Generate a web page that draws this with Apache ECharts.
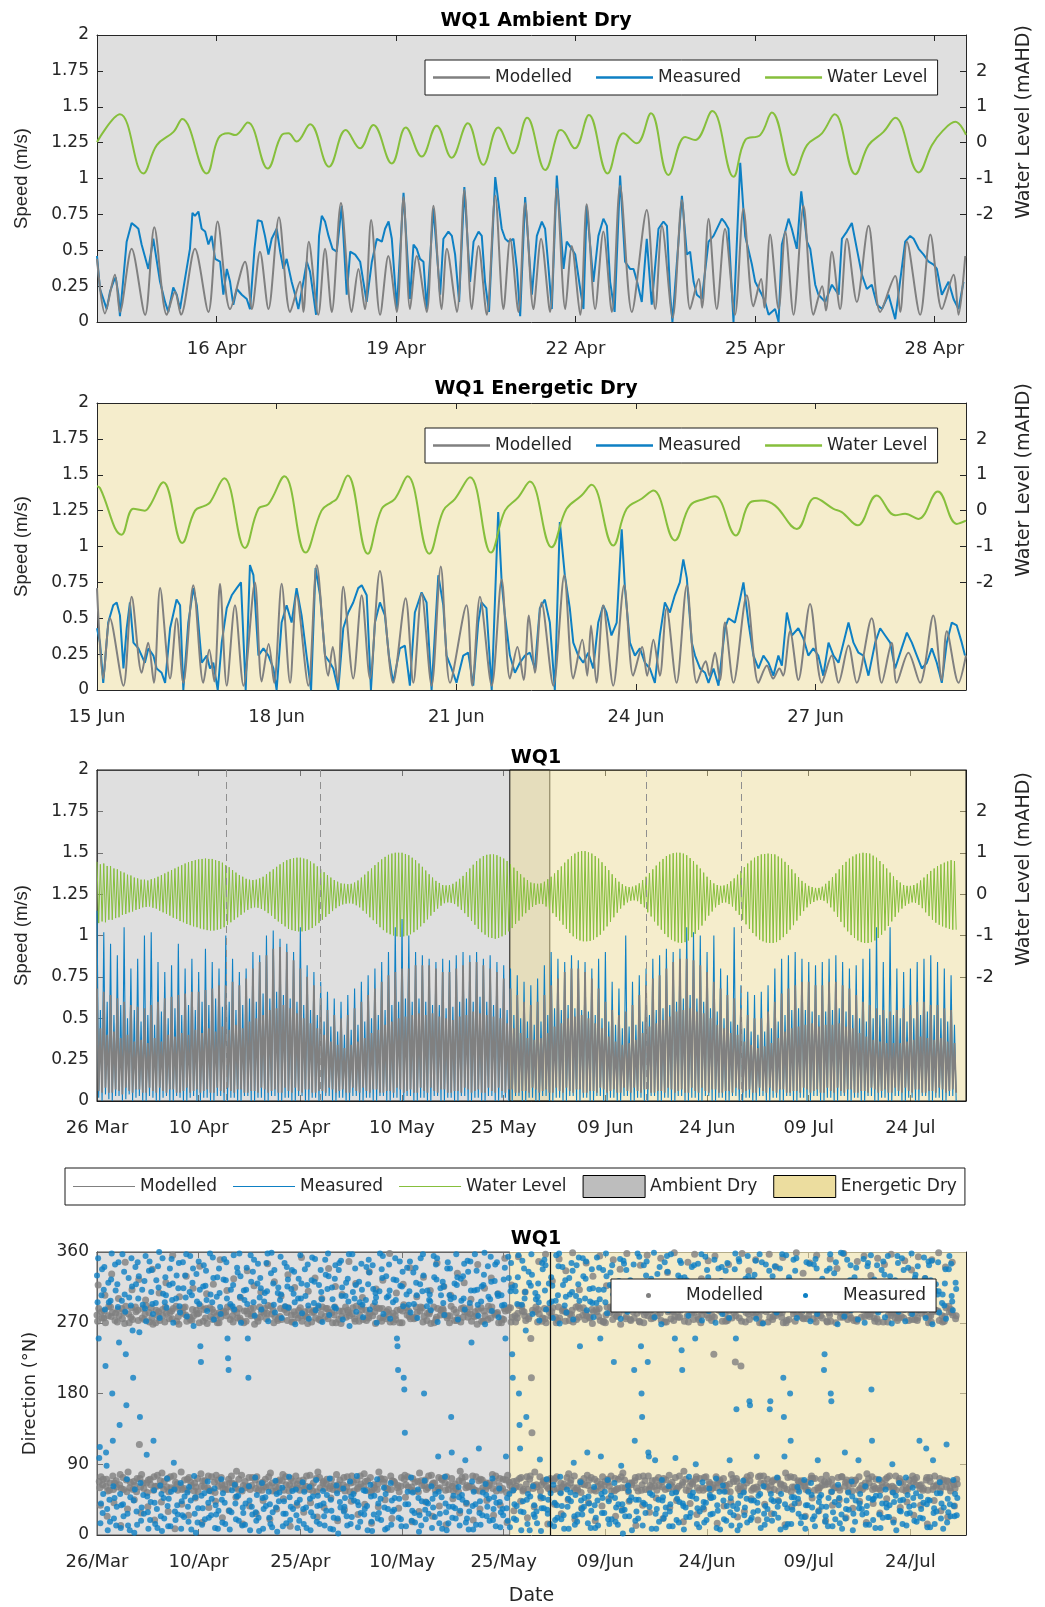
<!DOCTYPE html>
<html>
<head>
<meta charset="utf-8">
<script src="https://cdn.jsdelivr.net/npm/echarts@6/dist/echarts.min.js"></script>
<style>
  html, body { margin: 0; padding: 0; background: #fff; }
  #main { width: 1045px; height: 1607px; }
</style>
</head>
<body>
<div id="main"></div>
<script>
// ---------- panel 1: WQ1 Ambient Dry (hours from 14 Apr 00:00) ----------
const p1Ticks = [48, 120, 192, 264, 336];
const p1Labels = ['16 Apr', '19 Apr', '22 Apr', '25 Apr', '28 Apr'];
const p1Wl = [[0,0.02],[9.2,0.79],[18.6,-0.86],[24,-0.07],[30.7,0.30],[34.2,0.66],[44,-0.86],[48.7,0.12],[52.7,0.26],[55.4,0.21],[60.5,0.56],[68.5,-0.72],[74.1,0.21],[76.8,0.26],[80.1,0.03],[85.5,0.51],[93.1,-0.67],[99.8,0.35],[105.5,-0.16],[110.9,0.49],[118.3,-0.58],[123.9,0.42],[130.3,-0.39],[136.3,0.47],[142.3,-0.42],[148.8,0.54],[155,-0.62],[161,0.42],[167,-0.30],[172.6,0.69],[179.8,-0.76],[185,0.30],[186.2,0.35],[191.7,-0.16],[197.4,0.77],[204.9,-0.86],[211.2,0.26],[216.6,-0.02],[222.3,0.82],[229.3,-0.90],[236,0.16],[240,0.07],[246.9,0.88],[255.4,-0.95],[260.1,0.07],[266.1,0.21],[270.8,0.84],[279.5,-0.90],[284.9,-0.07],[290.9,0.26],[296,0.79],[304.3,-0.88],[309.6,-0.07],[315.6,0.30],[320.3,0.69],[329.7,-0.83],[335,-0.07],[339,0.30],[344.4,0.58],[348.7,0.22]];
const p1Mod = [[0,0.44],[3.2,0.06],[7.2,0.33],[9.2,0.07],[13.9,0.51],[19.3,0.05],[23,0.66],[28,0.05],[31.3,0.21],[33.7,0.05],[39.3,0.51],[44.7,0.07],[48.4,0.70],[53.4,0.09],[59.4,0.42],[62.1,0.09],[65.4,0.49],[68.8,0.09],[73,0.73],[77.5,0.07],[81.5,0.28],[82.8,0.07],[85,0.56],[88.8,0.05],[91.5,0.51],[94.2,0.07],[97.9,0.83],[102.2,0.07],[104.9,0.37],[107.5,0.09],[110,0.71],[113.6,0.05],[116.9,0.46],[120.3,0.07],[123,0.87],[125.6,0.09],[128.3,0.46],[132.3,0.07],[135,0.81],[138.3,0.09],[140.4,0.51],[144.4,0.07],[147.4,0.92],[150.4,0.09],[153.1,0.53],[156.4,0.05],[159.8,0.88],[163.1,0.09],[165.8,0.58],[169.1,0.07],[171.8,0.83],[175.1,0.09],[178.2,0.58],[181.8,0.07],[184.5,0.93],[187.9,0.09],[190.5,0.53],[193.9,0.05],[196.5,0.82],[199.9,0.09],[203.2,0.63],[206.6,0.07],[209.9,0.95],[214.6,0.07],[220.6,0.78],[224,0.09],[226.7,0.67],[231,0.03],[234.7,0.85],[238,0.09],[241.5,0.3],[242.8,0.1],[245.4,0.72],[248.7,0.09],[252,0.65],[256,0.05],[259.4,0.79],[263.4,0.11],[266.5,0.3],[267.8,0.1],[270.1,0.61],[273.5,0.09],[276.2,0.63],[279.5,0.05],[283.5,0.81],[287.5,0.05],[291,0.25],[292.5,0.08],[294.9,0.49],[298.2,0.09],[300.9,0.58],[304.9,0.14],[309.6,0.67],[314.3,0.07],[320.3,0.32],[322.3,0.07],[325,0.56],[330.3,0.05],[334.4,0.61],[339,0.09],[343.7,0.33],[345.7,0.05],[348.4,0.46]];
const p1Meas = [[0,0.46],[1.2,0.23],[3.9,0.09],[5.2,0.21],[6.6,0.28],[7.5,0.31],[8.6,0.19],[9.2,0.04],[11.9,0.56],[13.9,0.69],[15.3,0.67],[16.6,0.65],[17.9,0.54],[20.6,0.37],[22.6,0.58],[25.3,0.28],[27.3,0.14],[28.6,0.07],[30.6,0.24],[32,0.19],[33.3,0.09],[35.3,0.30],[37.3,0.51],[38.3,0.76],[39.3,0.74],[40.7,0.77],[42,0.65],[43.4,0.63],[44.7,0.54],[46,0.60],[47.4,0.44],[49.4,0.42],[50.7,0.19],[52.1,0.37],[53.4,0.28],[54.7,0.12],[56.1,0.23],[58.1,0.19],[60.1,0.16],[61.4,0.09],[63.2,0.51],[64.5,0.71],[66.1,0.70],[67.4,0.60],[68.8,0.47],[70.1,0.58],[72.1,0.65],[73.5,0.49],[74.8,0.37],[76.1,0.44],[78.1,0.28],[79.5,0.19],[80.8,0.09],[82.8,0.28],[84.2,0.42],[85.5,0.35],[86.8,0.19],[87.9,0.05],[89.1,0.60],[90.2,0.74],[91.5,0.70],[92.9,0.60],[94.5,0.51],[96.2,0.49],[98.2,0.81],[100.2,0.19],[101.6,0.49],[103.6,0.47],[105.6,0.42],[106.9,0.28],[108.2,0.14],[110.3,0.42],[112.3,0.58],[114.3,0.56],[115.6,0.65],[117,0.70],[118.3,0.58],[120.3,0.09],[123,0.90],[125.6,0.16],[127,0.54],[128.3,0.51],[129.6,0.44],[131,0.42],[132.3,0.09],[135,0.79],[137.7,0.19],[139,0.58],[141,0.63],[142.4,0.60],[143.7,0.47],[145.3,0.14],[147.4,0.94],[149.7,0.28],[151.1,0.56],[153.1,0.63],[154.4,0.60],[155.7,0.28],[157.3,0.07],[159.8,1.01],[162.4,0.65],[163.8,0.58],[165.1,0.56],[167.1,0.58],[168.5,0.37],[169.8,0.04],[171.8,0.87],[174.5,0.19],[176.5,0.60],[178.5,0.70],[179.8,0.65],[181.2,0.37],[182.5,0.09],[184.5,1.02],[187.2,0.37],[188.5,0.56],[190.5,0.51],[191.9,0.47],[193.9,0.23],[195.2,0.09],[196.5,0.81],[199.2,0.28],[201.2,0.60],[203.2,0.72],[204.6,0.67],[205.9,0.28],[207.7,0.07],[209.9,1.02],[211.9,0.42],[213.9,0.37],[215.3,0.37],[216.6,0.29],[218.6,0.14],[220.6,0.58],[222.6,0.12],[225.3,0.65],[227.3,0.70],[228.7,0.67],[230,0.19],[230.9,0],[234.7,0.88],[236.7,0.47],[238,0.49],[239.4,0.28],[240.7,0.19],[242.7,0.16],[245.4,0.56],[247.4,0.60],[250.7,0.72],[252.1,0.69],[253.4,0.65],[255.4,0],[258.1,1.11],[260.1,0.60],[262.8,0.40],[264.1,0.28],[266.8,0.19],[268.1,0.14],[269.5,0.05],[272.1,0.09],[273.5,0],[274.8,0.54],[277.5,0.72],[278.8,0.65],[280.8,0.51],[282.6,0.91],[284.9,0.56],[286.2,0.51],[288.2,0.26],[289.5,0.19],[292.2,0.14],[294.9,0.26],[297.6,0.19],[298.9,0.58],[300.9,0.63],[302.9,0.69],[304.9,0.51],[306.9,0.33],[308.9,0.23],[310.9,0.26],[313,0.12],[315,0.09],[317.6,0.19],[320.3,0.02],[324.3,0.56],[326.3,0.60],[327.7,0.58],[329.7,0.51],[331.7,0.47],[333.7,0.42],[335.7,0.40],[337,0.37],[339,0.19],[341.7,0.28],[343.7,0.16],[345.7,0.09],[347.7,0.28]];

// ---------- panel 2: WQ1 Energetic Dry (hours from 15 Jun 00:00) ----------
const p2Ticks = [0, 72, 144, 216, 288];
const p2Labels = ['15 Jun', '18 Jun', '21 Jun', '24 Jun', '27 Jun'];
const p2Wl = [[0,0.68],[1.2,0.63],[9.9,-0.67],[14.6,0.05],[19.2,0],[21.2,0.14],[26.6,0.79],[34.2,-0.9],[39.3,0],[43.3,0.14],[45.3,0.23],[51,0.9],[59.3,-1.04],[64.7,0.05],[68.7,0.18],[75.1,0.96],[83.6,-1.17],[90,0],[94.1,0.23],[96.1,0.33],[100.5,0.98],[108.5,-1.2],[114.1,0.05],[119.4,0.33],[124.5,0.96],[133.2,-1.2],[138.8,0],[143.5,0.33],[149.5,0.93],[157.9,-1.17],[163.5,0],[168.8,0.37],[173.5,0.81],[182.2,-1.02],[188.2,0.05],[194.2,0.42],[198.2,0.72],[206.9,-0.97],[212.3,0.05],[218.3,0.33],[223,0.56],[231.6,-0.83],[237.7,0.14],[243.7,0.33],[247.7,0.40],[256,-0.69],[261.8,0.23],[266.4,0.28],[271.8,0.14],[280.5,-0.51],[287.8,0.35],[295.2,0.05],[298.5,-0.04],[304.9,-0.41],[312.5,0.42],[319.9,-0.13],[323.9,-0.09],[329.2,-0.23],[337,0.53],[344.6,-0.37],[348.3,-0.28]];
const p2Mod = [[0,0.71],[2.5,0.08],[5.2,0.50],[10.6,0.03],[13.9,0.65],[17.9,0.12],[20.5,0.33],[22.8,0.05],[25.3,0.71],[29.3,0.08],[31.9,0.50],[34.6,0.05],[38.6,0.73],[42.6,0.05],[45,0.28],[47,0.06],[49.3,0.74],[52,0.03],[55.3,0.59],[58.7,0.03],[63.3,0.75],[66,0.06],[68.8,0.32],[71,0.05],[74,0.74],[77.4,0.05],[80,0.66],[84.7,0.03],[88.1,0.87],[92.7,0.10],[94.5,0.30],[96.5,0.05],[98.7,0.72],[102.7,0.08],[106.1,0.66],[109.4,0.08],[113.4,0.83],[118.7,0.05],[123.7,0.64],[126.8,0.05],[130.1,0.67],[134.1,0.03],[137.8,0.86],[141.5,0.05],[148.1,0.59],[150.4,0.03],[153.5,0.65],[158.2,0.03],[162.2,0.77],[165.5,0.08],[168.5,0.30],[171,0.07],[173.1,0.52],[175.5,0.12],[178.2,0.61],[182.9,0.03],[187.3,0.80],[190.9,0.08],[194.5,0.35],[196.5,0.10],[198,0.45],[200.2,0.05],[202.9,0.59],[206.9,0.03],[211.3,0.73],[214.9,0.10],[218.5,0.30],[220.5,0.10],[223,0.35],[225.6,0.10],[228.3,0.57],[232.3,0.05],[236.4,0.73],[240.4,0.05],[244,0.20],[245.5,0.10],[247.7,0.26],[249.7,0.07],[251.7,0.47],[255.1,0.05],[260.4,0.66],[265.1,0.05],[268.5,0.17],[271,0.08],[273.5,0.15],[275,0.10],[277.8,0.41],[281.1,0.07],[285.8,0.60],[290.5,0.05],[294.5,0.24],[297.2,0.05],[301.2,0.31],[304.5,0.05],[310.5,0.50],[314.5,0.05],[318.5,0.33],[320.5,0.05],[325.2,0.26],[329.9,0.05],[335.2,0.52],[338.6,0.07],[340.6,0.41],[345.3,0.05],[348.3,0.24]];
const p2Meas = [[0,0.43],[1.2,0.33],[2.5,0.05],[4.5,0.47],[6.5,0.59],[7.9,0.61],[9.2,0.52],[10.6,0.15],[11.9,0.43],[13.2,0.61],[14.6,0.33],[16.6,0.29],[17.9,0.24],[19.2,0.19],[20.6,0.29],[22.6,0.24],[23.9,0.15],[25.9,0.12],[27.3,0.05],[29.3,0.43],[31.9,0.63],[33.3,0.59],[34.6,0],[36.6,0.47],[38.6,0.71],[40,0.59],[42,0.19],[44,0.24],[45.3,0.15],[46.6,0.19],[48.4,0],[50,0.33],[52,0.57],[54,0.66],[56,0.71],[57.7,0.75],[59.6,0],[61.3,0.87],[62.7,0.80],[64.7,0.24],[66.7,0.29],[68.7,0.24],[70.7,0.15],[72,0],[74,0.47],[76,0.59],[78,0.47],[80,0.71],[82,0.52],[84,0.24],[85.8,0],[87.6,0.85],[89.4,0.66],[91.4,0.24],[93.4,0.19],[94.7,0.15],[96.7,0],[98.7,0.43],[100.7,0.54],[102.7,0.61],[104.7,0.71],[106.1,0.73],[108.1,0.66],[109.8,0],[111.4,0.47],[113.4,0.61],[115.4,0.52],[117,0.24],[118.7,0.05],[121.4,0.29],[123.4,0.31],[125.4,0.03],[127.4,0.54],[130.1,0.68],[132.1,0.61],[134.1,0],[136.8,0.80],[138.8,0.59],[140.1,0.24],[142.1,0.15],[144.1,0.05],[146.8,0.24],[148.8,0.26],[150.8,0.03],[152.8,0.47],[154.1,0.61],[156.1,0.57],[158.2,0],[160.8,1.24],[162.2,0.75],[163.5,0.52],[165.5,0.24],[167.5,0.12],[169.5,0.19],[171.5,0.24],[173.5,0.26],[175.5,0.15],[177.5,0.57],[179.5,0.63],[181.5,0.47],[183.5,0],[185.5,1.17],[187.5,0.80],[189.5,0.57],[190.9,0.33],[192.9,0.24],[194.9,0.19],[196.9,0.26],[198.9,0.15],[200.9,0.47],[202.9,0.59],[204.2,0.54],[206.2,0.38],[208.3,0.47],[210.3,1.12],[211.6,0.71],[213.6,0.33],[215.6,0.24],[217.6,0.29],[219.6,0.19],[221.6,0.15],[223.6,0.05],[225.6,0.38],[227.6,0.61],[229.6,0.54],[231.6,0.66],[233.6,0.75],[235,0.91],[236.4,0.78],[238.4,0.33],[239.7,0.24],[241.7,0.15],[243.7,0.12],[245.1,0.05],[247.1,0.15],[249.1,0.03],[251.7,0.43],[253.1,0.50],[255.7,0.47],[257.7,0.63],[259.1,0.75],[261.1,0.47],[263.1,0.24],[265.1,0.15],[267.1,0.24],[269.1,0.19],[271.1,0.10],[273.1,0.24],[274.5,0.17],[276.5,0.54],[278.5,0.38],[281.1,0.43],[283.1,0.36],[285.1,0.24],[287.1,0.29],[289.1,0.24],[291.1,0.10],[293.2,0.33],[295.2,0.24],[297.2,0.19],[299.2,0.33],[301.2,0.47],[303.2,0.33],[305.2,0.26],[307.2,0.24],[309.2,0.10],[311.9,0.33],[313.9,0.43],[315.9,0.38],[317.9,0.33],[319.9,0.15],[322.5,0.29],[324.6,0.40],[326.6,0.33],[328.6,0.24],[330.6,0.15],[332.6,0.19],[334.6,0.29],[336.6,0.19],[338.6,0.05],[340.6,0.33],[342.6,0.47],[344.6,0.45],[346.6,0.33],[347.9,0.24]];

// ---------- panels 3 & 4: whole record (days from 26 Mar) ----------
const p3Ticks = [0, 15, 30, 45, 60, 75, 90, 105, 120];
const p3Labels = ['26 Mar', '10 Apr', '25 Apr', '10 May', '25 May', '09 Jun', '24 Jun', '09 Jul', '24 Jul'];
const p4Labels = ['26/Mar', '10/Apr', '25/Apr', '10/May', '25/May', '09/Jun', '24/Jun', '09/Jul', '24/Jul'];
const ambientSpan = [0, 66.8];      // ambient dry patch (panel 3)
const energeticSpan = [60.9, 128.2]; // energetic dry patch
const windowMarks = [19, 33, 81, 95]; // dashed: windows of the two upper panels

// water level, sampled every 6 h (high, low, high, low per day)
const p3Wl = [
.78,-.70,.72,-.66, .74,-.68,.68,-.62, .68,-.62,.62,-.58, .60,-.56,.55,-.50, .52,-.48,.47,-.44,
.45,-.42,.40,-.38, .38,-.36,.35,-.32, .35,-.31,.33,-.30, .36,-.33,.38,-.35, .42,-.40,.46,-.44,
.50,-.48,.54,-.52, .58,-.57,.62,-.60, .66,-.65,.70,-.68, .74,-.72,.77,-.75, .80,-.78,.82,-.80,
.84,-.83,.85,-.85, .86,-.87,.85,-.88, .85,-.88,.82,-.86, .80,-.84,.76,-.80, .70,-.74,.65,-.68,
.58,-.62,.52,-.56, .46,-.50,.42,-.44, .37,-.38,.35,-.34, .34,-.32,.35,-.33, .38,-.36,.42,-.40,
.48,-.46,.54,-.52, .60,-.60,.66,-.66, .72,-.72,.77,-.78, .82,-.84,.85,-.87, .87,-.89,.88,-.90,
.88,-.90,.86,-.89, .84,-.86,.79,-.82, .74,-.76,.67,-.70, .60,-.62,.53,-.55, .46,-.48,.40,-.41,
.34,-.34,.30,-.29, .26,-.25,.25,-.23, .24,-.22,.25,-.23, .28,-.27,.33,-.32, .40,-.40,.47,-.47,
.55,-.56,.62,-.63, .70,-.72,.77,-.80, .84,-.87,.90,-.93, .95,-.97,.98,-1.0, 1.0,-1.02,1.0,-1.03,
1.0,-1.02,.97,-1.0, .94,-.97,.88,-.92, .82,-.86,.74,-.78, .66,-.70,.57,-.61, .48,-.52,.40,-.43,
.32,-.35,.27,-.28, .22,-.22,.21,-.20, .22,-.21,.25,-.24, .30,-.30,.37,-.38, .44,-.46,.53,-.55,
.62,-.65,.71,-.74, .80,-.84,.86,-.92, .92,-.98,.95,-1.04, .96,-1.06,.96,-1.08, .94,-1.06,.90,-1.02,
.86,-.98,.80,-.90, .72,-.82,.64,-.72, .56,-.64,.48,-.54, .40,-.46,.34,-.38, .28,-.31,.26,-.26,
.25,-.23,.26,-.24, .30,-.30,.36,-.37, .42,-.46,.50,-.55, .58,-.64,.67,-.74, .76,-.84,.84,-.94,
.92,-1.02,.98,-1.08, 1.02,-1.12,1.04,-1.14, 1.04,-1.14,1.01,-1.13, .98,-1.10,.92,-1.04, .86,-.98,.77,-.88,
.68,-.78,.58,-.67, .48,-.56,.39,-.45, .30,-.35,.24,-.27, .19,-.20,.17,-.16, .18,-.15,.21,-.17,
.26,-.24,.34,-.32, .42,-.44,.51,-.54, .60,-.66,.69,-.76, .78,-.86,.85,-.96, .92,-1.04,.96,-1.10,
.99,-1.14,1.0,-1.17, 1.0,-1.18,.98,-1.16, .94,-1.12,.87,-1.04, .80,-.96,.71,-.86, .62,-.76,.52,-.64,
.42,-.52,.34,-.42, .26,-.32,.22,-.26, .20,-.21,.21,-.20, .24,-.24,.31,-.30, .38,-.40,.47,-.50,
.56,-.62,.65,-.73, .74,-.84,.81,-.94, .88,-1.02,.92,-1.10, .96,-1.14,.97,-1.17, .98,-1.18,.97,-1.18,
.96,-1.16,.91,-1.11, .86,-1.04,.78,-.96, .70,-.86,.60,-.75, .50,-.64,.41,-.52, .32,-.41,.26,-.32,
.20,-.24,.17,-.19, .15,-.15,.15,-.14, .18,-.16,.25,-.22, .32,-.32,.41,-.42, .50,-.55,.60,-.67,
.70,-.80,.78,-.90, .86,-.99,.91,-1.06, .96,-1.12,.98,-1.16, 1.0,-1.18,.99,-1.18, .98,-1.16,.93,-1.12,
.88,-1.06,.80,-.98, .72,-.88,.62,-.77, .52,-.66,.43,-.55, .34,-.44,.28,-.35, .22,-.28,.20,-.23,
.20,-.20,.22,-.21, .26,-.26,.33,-.34, .40,-.44,.48,-.53, .56,-.62,.62,-.69, .68,-.74,.72,-.78,
.76,-.81,.79,-.84, .82,-.86,.80,-.86
];

// modelled speed, sampled every 6 h (peak, slack, peak, slack per day)
const p3Mod = [
.68,.06,.44,.05, .66,.08,.40,.05, .64,.05,.42,.07, .62,.06,.38,.04, .60,.08,.40,.06,
.58,.05,.36,.07, .57,.07,.37,.05, .56,.05,.35,.08, .58,.06,.38,.05, .60,.08,.36,.06,
.62,.05,.40,.07, .63,.07,.39,.05, .64,.05,.41,.06, .65,.08,.40,.05, .66,.06,.43,.07,
.66,.05,.41,.06, .67,.07,.44,.05, .68,.05,.42,.08, .70,.06,.45,.05, .70,.08,.43,.06,
.72,.05,.46,.07, .70,.07,.44,.05, .74,.05,.48,.06, .80,.06,.50,.05, .84,.08,.52,.07,
.88,.05,.55,.06, .92,.07,.56,.05, .93,.05,.58,.08, .90,.06,.56,.05, .85,.08,.53,.06,
.80,.05,.50,.07, .75,.07,.47,.05, .70,.05,.44,.06, .62,.06,.40,.05, .55,.08,.36,.07,
.52,.05,.34,.06, .50,.07,.32,.05, .52,.05,.34,.08, .56,.06,.36,.05, .60,.08,.38,.06,
.64,.05,.41,.07, .68,.07,.43,.05, .72,.05,.46,.06, .76,.06,.48,.05, .78,.08,.50,.07,
.80,.05,.51,.06, .80,.07,.52,.05, .82,.05,.53,.08, .82,.06,.52,.05, .82,.08,.53,.06,
.80,.05,.51,.07, .78,.07,.50,.05, .78,.05,.49,.06, .80,.06,.51,.05, .82,.08,.52,.07,
.84,.05,.54,.06, .84,.07,.53,.05, .82,.05,.52,.08, .80,.06,.51,.05, .78,.08,.50,.06,
.74,.05,.47,.07, .68,.07,.44,.05, .64,.05,.41,.06, .60,.06,.38,.05, .58,.08,.37,.07,
.60,.05,.38,.06, .64,.07,.41,.05, .70,.05,.45,.08, .74,.06,.47,.05, .78,.08,.50,.06,
.80,.05,.51,.07, .80,.07,.52,.05, .78,.05,.50,.06, .74,.06,.47,.05, .68,.08,.44,.07,
.60,.05,.39,.06, .55,.07,.36,.05, .52,.05,.34,.08, .54,.06,.35,.05, .58,.08,.37,.06,
.64,.05,.41,.07, .70,.07,.45,.05, .74,.05,.47,.06, .76,.06,.49,.05, .80,.08,.51,.07,
.84,.05,.54,.06, .86,.07,.55,.05, .86,.05,.56,.08, .85,.06,.54,.05, .82,.08,.53,.06,
.78,.05,.50,.07, .72,.07,.46,.05, .68,.05,.44,.06, .64,.06,.41,.05, .62,.08,.40,.07,
.56,.05,.36,.06, .52,.07,.34,.05, .50,.05,.32,.08, .50,.06,.33,.05, .54,.08,.35,.06,
.60,.05,.38,.07, .65,.07,.42,.05, .68,.05,.44,.06, .70,.06,.45,.05, .72,.08,.46,.07,
.72,.05,.47,.06, .70,.07,.45,.05, .70,.05,.46,.08, .72,.06,.46,.05, .72,.08,.47,.06,
.70,.05,.45,.07, .68,.07,.44,.05, .64,.05,.41,.06, .60,.06,.39,.05, .58,.08,.37,.07,
.56,.05,.36,.06, .55,.07,.35,.05, .54,.05,.35,.08, .55,.06,.35,.05, .56,.08,.36,.06,
.58,.05,.37,.07, .60,.07,.39,.05, .60,.05,.38,.06, .58,.06,.37,.05, .58,.08,.38,.07,
.56,.05,.36,.06, .55,.07,.35,.05
];

// measured speed, sampled every 6 h
const p3Meas = [
1.15,.02,.55,0, 1.02,.04,.60,.01, .95,0,.52,.03, .88,.03,.58,0, 1.05,.01,.50,.04,
.80,0,.55,.02, .86,.03,.48,0, 1.0,0,.52,.03, 1.02,.02,.46,0, .84,0,.54,.02,
.78,.03,.50,0, .82,0,.56,.03, .95,.02,.52,0, .80,0,.58,.02, .86,.03,.55,0,
.78,0,.60,.02, .92,.02,.58,0, .84,0,.62,.03, .80,.03,.57,0, 1.0,0,.60,.02,
.86,.02,.55,0, .78,0,.58,.03, .80,.03,.62,0, .90,0,.60,.02, .88,.02,.65,0,
1.0,0,.62,.03, 1.03,.03,.66,0, .98,0,.64,.02, .95,.02,.62,0, .90,0,.60,.03,
1.05,.03,.58,0, .82,0,.55,.02, .78,.02,.52,0, .72,0,.48,.03, .66,.03,.45,0,
.62,0,.42,.02, .60,.02,.40,0, .64,0,.43,.03, .68,.03,.46,0, .72,0,.48,.02,
.76,.02,.50,0, .80,0,.52,.03, .84,.03,.55,0, .90,0,.58,.02, 1.05,.02,.60,0,
1.10,0,.62,.03, 1.0,.03,.60,0, .90,0,.62,.02, .88,.02,.60,0, .86,0,.58,.03,
.84,.03,.58,0, .86,0,.56,.02, .85,.02,.57,0, .88,0,.60,.03, .90,.03,.62,0,
.88,0,.60,.02, .90,.02,.63,0, .86,0,.60,.03, .88,.03,.58,0, .84,0,.56,.02,
.82,.02,.55,0, .80,0,.52,.03, .76,.03,.50,0, .72,0,.48,.02, .70,.02,.46,0,
.74,0,.48,.03, .82,.03,.52,0, .90,0,.56,.02, .86,.02,.55,0, .84,0,.58,.03,
.88,.03,.56,0, .85,0,.55,.02, .84,.02,.54,0, .80,0,.52,.03, .86,.03,.50,0,
.90,0,.48,.02, .72,.02,.46,0, .68,0,.44,.03, 1.0,.03,.45,0, .72,0,.46,.02,
.76,.02,.48,0, .80,0,.52,.03, .86,.03,.55,0, .88,0,.56,.02, .92,.02,.58,0,
.90,0,.60,.03, .92,.03,.62,0, 1.05,0,.64,.02, 1.02,.02,.62,0, 1.0,0,.60,.03,
.90,.03,.56,0, 1.0,0,.54,.02, .80,.02,.50,0, .76,0,.48,.03, 1.05,.03,.46,0,
.70,0,.44,.02, .66,.02,.42,0, .64,0,.40,.03, .66,.03,.42,0, .70,0,.44,.02,
.80,.02,.48,0, .86,0,.52,.03, .88,.03,.55,0, .90,0,.56,.02, .86,.02,.55,0,
.84,0,.54,.03, .82,.03,.52,0, .84,0,.54,.02, .86,.02,.55,0, .88,0,.56,.03,
.84,.03,.54,0, .80,0,.52,.02, .82,.02,.50,0, .86,0,.48,.03, .92,.03,.50,0,
1.05,0,.52,.02, .84,.02,.50,0, 1.05,0,.52,.03, .80,.03,.50,0, .78,0,.48,.02,
.80,.02,.50,0, .84,0,.52,.03, .86,.03,.54,0, .88,0,.52,.02, .84,.02,.50,0,
.80,0,.48,.03, .76,.03,.46,0
];

// modelled direction (deg N), sampled every 2 h (one row per day)
const p4Mod = [
280,272,318,288,68,60,38,74,284,276,64,71, 276,285,305,270,62,71,24,56,279,291,57,66,
290,278,332,283,75,58,41,66,273,282,69,61, 271,287,301,279,64,77,12,59,288,275,73,58,
283,269,347,291,70,55,33,80,281,270,60,67, 277,289,312,274,58,68,45,63,290,284,55,72,
286,273,325,115,72,61,28,77,276,288,66,59, 274,281,299,292,66,54,36,70,283,271,71,64,
289,276,338,268,57,74,19,62,270,286,62,76, 279,284,308,273,69,63,42,79,287,279,58,68,
271,290,321,282,61,72,30,55,275,283,74,60, 285,275,356,288,75,59,8,67,291,272,65,57,
278,268,303,286,63,80,39,58,282,289,59,70, 290,280,329,272,71,57,25,73,277,274,67,63,
273,287,314,279,56,66,47,61,286,281,72,55, 282,270,342,291,78,62,16,69,272,287,61,69,
276,288,307,269,60,75,35,57,289,278,56,74, 287,274,319,283,67,54,43,76,279,270,70,62,
270,283,350,277,73,64,22,59,285,283,64,58, 284,279,311,290,58,71,31,66,274,290,75,66,
279,271,326,286,65,60,48,81,283,276,58,71, 288,276,302,273,76,56,14,63,270,285,68,60,
272,285,336,281,62,73,37,58,288,279,63,73, 281,289,317,268,70,59,27,74,276,272,57,65,
290,277,309,284,57,67,44,61,282,288,71,61, 275,282,345,292,74,63,20,79,291,281,66,56,
286,270,322,278,61,56,33,68,273,275,60,70, 278,288,304,274,69,77,46,57,287,290,74,64,
283,273,331,289,56,64,11,72,280,271,59,68, 271,284,315,280,75,60,38,65,276,286,69,57,
289,279,353,272,63,70,29,58,284,279,62,75, 277,269,310,287,58,76,41,62,271,283,56,66,
284,286,327,276,72,55,23,80,289,274,73,60, 273,281,301,290,66,68,35,59,278,288,65,71,
288,275,339,283,59,62,47,71,283,270,58,63, 280,290,316,270,77,57,18,64,274,285,70,59,
269,278,306,285,64,73,32,56,290,277,61,74, 286,283,348,279,55,66,43,75,281,289,67,56,
275,272,320,291,70,59,26,61,272,280,75,65, 291,287,302,274,62,78,39,68,286,273,57,69,
278,276,335,282,73,54,15,57,279,291,64,60, 284,269,313,289,58,65,36,80,288,276,71,72,
272,288,324,277,67,71,45,60,275,284,59,58, 287,280,358,271,75,58,21,69,282,271,68,66,
279,274,308,286,60,63,34,55,270,287,62,73, 270,285,319,293,71,76,48,64,289,280,74,61,
285,278,340,275,57,61,17,72,277,275,56,67, 276,290,303,283,68,55,30,79,285,290,69,63,
289,271,328,278,63,70,42,58,273,282,60,75, 281,284,311,269,76,64,24,66,290,270,66,57,
274,277,346,288,59,73,37,60,280,286,72,70, 288,286,316,280,66,57,13,74,276,279,58,64,
270,279,305,291,72,62,46,56,287,273,65,59, 283,273,333,276,55,69,28,81,271,288,73,68,
277,289,321,284,74,60,40,63,283,277,61,62, 290,281,300,272,61,75,19,58,278,284,57,74,
279,268,344,287,69,56,33,71,289,272,70,60, 272,285,314,279,58,66,44,62,274,291,63,66,
286,276,327,290,77,59,25,68,282,280,75,56, 281,283,307,270,63,72,38,57,270,275,59,71,
274,288,352,285,70,54,16,76,286,289,67,63, 289,271,318,277,57,68,31,60,279,271,62,69,
276,282,354,292,72,61,43,73,291,285,56,58, 284,279,309,273,65,74,22,58,275,278,71,75,
250,200,130,286,59,63,36,80,284,290,64,61, 271,287,348,281,74,56,47,64,272,276,69,67,
288,275,357,270,62,70,14,59,288,283,58,72, 278,284,323,289,69,58,39,72,277,270,74,59,
273,290,351,276,55,66,27,61,285,287,61,65, 285,272,336,283,73,62,45,78,273,281,66,70,
280,286,359,271,60,75,20,57,290,274,60,57, 291,277,312,288,68,54,34,65,280,289,72,64,
274,283,346,279,76,63,41,70,276,277,57,73, 287,269,329,284,58,71,18,56,287,284,68,62,
278,288,355,273,65,59,37,74,271,272,63,68, 270,280,317,290,71,67,46,62,283,290,75,56,
286,274,350,282,56,72,24,58,278,279,59,71, 281,289,338,268,74,60,32,79,289,286,70,60,
275,278,358,287,61,55,43,66,274,273,64,66, 290,284,306,276,69,73,12,60,282,288,56,74,
272,271,343,285,57,64,38,75,270,280,69,58, 283,287,356,279,75,58,29,63,286,275,61,69,
279,276,321,291,62,70,47,57,279,291,73,63, 288,282,352,273,68,61,21,72,291,271,58,70,
271,290,334,284,59,76,35,64,275,285,67,61, 284,273,359,278,73,56,44,59,284,277,62,75,
277,286,314,289,64,67,17,81,272,289,71,57, 291,279,347,271,56,62,40,68,288,282,65,67,
274,283,357,287,71,74,26,60,277,274,57,72, 285,270,326,280,60,57,33,73,285,290,74,59,
280,288,349,276,67,65,48,58,273,279,60,64, 230,277,355,290,74,60,15,66,290,286,68,70,
288,284,311,272,58,72,37,63,281,272,63,56, 273,275,344,285,65,55,42,77,276,288,72,68,
283,289,220,279,72,68,23,59,287,276,56,62, 215,272,358,287,56,61,30,70,271,283,66,74,
290,281,336,274,69,76,46,57,283,291,59,60, 278,286,350,283,61,58,19,74,278,270,75,66,
285,270,318,291,75,66,39,62,289,284,61,71, 271,287,357,277,57,63,27,68,274,278,70,58,
286,279,341,284,70,72,44,56,282,287,64,65, 277,283,353,270,63,59,13,79,270,273,58,73,
289,274,324,288,74,55,36,61,286,281,73,61, 272,288,359,281,58,69,41,67,279,290,62,69,
284,276,333,275,66,62,24,58,291,275,67,57, 279,285,346,290,72,75,47,72,275,286,57,72,
291,271,356,279,60,57,31,60,284,279,71,63, 276,289,315,286,68,64,18,76,272,271,65,68,
283,280,351,272,55,71,38,63,288,288,60,60, 270,284,339,287,73,60,45,57,277,282,74,74,
287,277,358,280,62,67,22,70,285,274,56,64, 280,290,322,276,70,56,34,65,273,289,69,70,
274,272,348,289,57,74,43,59,290,277,63,58, 289,286,355,278,66,61,16,78,280,285,72,66,
278,281,330,285,74,58,40,62,276,272,59,71, 285,275,352,271,59,70,28,57,287,290,66,61,
271,288,344,290,71,63,46,73,271,280,61,75, 288,279,357,283,62,55,19,60,283,276,75,57,
280,273,319,276,69,72,35,66,278,288,58,67, 276,287,349,288,56,60,42,58,289,273,70,62,
290,282,337,274,75,67,25,71,274,283,64,73, 273,276,354,286,63,59,38,64,282,291,57,59,
286,289,326,279,70,73,14,57,270,278,73,68, 279,271,350,284,58,62,44,75,286,286,62,64,
284,285,359,273,72,56,31,61,279,271,68,70, 272,278,341,289,61,69,23,68,291,284,60,56,
287,283,347,280,67,64,37,59,275,279,71,65
];

// measured direction (deg N), sampled every 2 h (one row per day)
const p4Meas = [
330,296,352,250,98,112,15,40,305,338,28,52, 312,341,287,215,105,88,33,6,321,296,45,17,
298,325,358,180,120,62,21,47,344,311,12,36, 319,290,347,245,140,52,9,38,298,357,39,24,
335,306,284,230,165,71,27,12,327,302,6,48, 292,352,316,260,200,44,3,58,341,319,30,13,
347,301,329,258,150,66,18,35,312,293,51,27, 323,288,355,272,102,49,29,8,336,348,19,42,
309,337,294,281,120,57,41,14,295,324,33,9, 342,315,360,276,63,24,52,5,352,307,47,21,
296,328,305,289,72,37,11,46,318,339,11,55, 351,299,320,270,92,58,30,19,301,330,38,26,
314,346,291,283,66,8,43,25,347,314,23,49, 330,302,357,278,54,36,17,61,309,355,44,7,
305,321,339,266,75,27,48,3,332,297,16,34, 348,294,312,240,220,50,13,34,316,343,53,20,
317,336,299,285,68,41,22,56,358,306,25,46, 296,353,327,274,59,9,38,26,303,328,8,31,
339,308,290,281,71,45,16,53,325,351,41,14, 324,347,301,250,225,210,31,7,294,312,29,57,
291,318,356,287,64,40,20,49,340,334,50,18, 358,303,329,270,57,12,35,28,311,299,13,40,
312,340,294,250,200,62,44,6,356,322,36,26, 335,296,350,279,73,29,18,51,320,345,22,5,
302,327,314,287,66,47,8,33,297,308,48,37, 346,310,358,272,55,22,39,14,333,359,10,29,
320,293,337,283,69,35,52,4,308,315,43,54, 299,354,306,276,60,11,27,43,346,291,27,15,
341,316,325,289,74,48,19,36,313,337,56,33, 307,335,296,268,58,25,41,9,301,326,18,45,
356,301,320,282,67,33,14,55,338,304,35,9, 318,344,292,275,61,46,6,29,324,353,49,24,
295,322,351,286,70,17,37,50,292,318,14,38, 337,309,300,271,56,40,24,12,350,331,31,51,
313,358,329,280,72,8,45,31,315,300,7,22, 290,326,343,288,63,53,21,2,337,346,42,35,
349,304,315,274,59,30,36,47,304,321,24,12, 326,297,357,266,68,14,49,23,357,309,52,44,
301,339,318,284,75,42,10,38,322,296,17,28, 345,312,293,277,57,26,33,56,299,341,37,6,
319,350,334,287,64,49,17,5,343,313,26,50, 296,308,302,270,71,21,40,28,310,358,46,19,
338,327,355,281,60,35,7,52,329,302,9,33, 304,344,311,275,66,13,44,30,296,325,32,47,
352,299,324,250,240,210,22,46,348,317,20,11, 316,335,291,200,185,130,39,11,306,340,55,39,
293,310,348,283,73,18,31,54,334,294,28,16, 340,321,305,276,58,47,4,25,319,352,12,43,
310,357,330,180,69,32,20,42,291,311,40,27, 299,306,297,286,62,9,46,35,355,328,23,52,
344,325,352,271,100,55,15,27,314,305,48,8, 322,295,316,280,74,40,29,6,339,347,15,36,
305,339,300,150,105,22,36,50,302,320,34,21, 357,318,328,274,61,48,12,31,326,298,51,45,
329,301,345,287,95,16,41,21,349,335,7,30, 295,348,311,245,68,37,7,55,311,357,39,13,
336,312,293,279,110,28,43,13,297,316,25,54, 318,331,359,268,65,51,24,36,342,303,46,18,
300,354,322,285,72,19,33,48,323,344,11,41, 347,307,304,277,59,42,10,29,305,292,33,25,
325,293,340,250,100,34,47,18,354,327,52,10, 310,346,315,230,200,57,21,39,317,310,19,37,
294,328,356,180,140,110,30,6,293,349,43,29, 339,301,309,260,150,45,14,52,335,321,6,49,
317,357,331,281,62,26,38,23,308,300,30,15, 303,320,296,273,96,49,5,34,346,338,47,34,
350,311,343,287,71,32,27,45,320,295,14,53, 328,297,317,276,64,11,41,19,298,356,38,22,
305,342,358,269,74,53,20,37,341,318,25,8, 292,324,303,283,58,36,46,8,327,306,54,43,
346,309,336,274,92,24,13,51,304,343,17,26, 319,353,298,240,67,44,33,26,352,329,36,47,
301,326,348,286,105,15,49,40,313,297,9,31, 338,295,314,277,61,38,9,22,295,353,44,12,
312,340,300,250,100,52,28,47,337,312,28,55, 296,358,329,282,70,20,43,14,318,334,50,20,
343,316,306,220,66,47,17,35,300,301,13,39, 323,302,351,275,88,31,39,2,349,345,32,24,
307,337,293,284,63,56,24,44,324,319,48,6, 291,319,344,210,120,18,45,30,307,358,21,45,
354,305,320,240,180,150,12,41,343,293,39,28, 330,348,297,220,105,100,36,53,296,326,8,51,
302,321,359,277,95,27,8,33,332,308,45,17, 341,296,310,268,70,44,48,21,315,347,26,35,
317,355,335,286,62,11,30,39,357,315,53,11, 295,312,301,250,98,54,19,46,309,330,16,42,
349,327,346,235,210,40,37,7,328,299,35,23, 324,304,315,279,74,23,50,28,292,341,49,54,
308,343,293,250,90,46,14,34,345,311,10,30, 292,318,357,273,67,35,42,16,321,354,41,19,
337,299,328,285,59,51,26,47,303,320,27,48, 314,350,305,270,72,9,38,31,339,295,55,7,
300,323,341,281,63,44,20,55,316,336,18,37, 346,310,296,276,95,29,47,12,298,309,37,25,
321,338,358,250,160,33,6,40,351,348,12,50, 297,306,317,287,69,54,25,35,326,302,46,16,
355,329,302,170,165,19,44,22,310,325,29,44, 331,296,349,275,100,41,31,50,294,357,52,9,
306,347,311,269,62,27,13,37,344,317,20,33, 293,315,336,160,170,52,45,18,329,296,43,27,
342,302,295,283,73,36,22,43,305,339,7,52, 318,357,322,200,150,100,39,10,356,313,34,14,
299,328,306,180,120,14,48,32,319,350,48,40, 336,311,352,276,61,46,27,55,300,322,15,23,
313,294,318,287,70,23,8,38,347,305,38,55, 296,345,301,272,66,51,35,20,312,344,24,11,
351,320,339,281,95,30,42,48,293,318,51,36, 326,305,293,210,230,17,24,36,336,292,11,47,
302,339,357,180,170,55,11,29,322,333,42,20, 347,299,315,268,64,38,47,15,306,359,26,8,
317,358,304,278,105,21,33,44,350,311,54,32, 294,324,343,286,68,49,6,27,317,328,17,44,
340,307,320,274,95,34,40,52,299,300,33,26, 322,351,297,270,62,13,28,37,342,346,47,13,
305,316,356,185,120,45,19,46,325,316,9,50, 291,343,308,283,71,26,50,9,308,337,40,22,
348,300,331,277,58,40,35,23,355,297,23,38, 329,322,295,269,90,54,16,42,314,324,50,6,
301,355,346,284,66,31,44,30,296,352,14,45, 337,309,314,272,73,12,27,51,340,309,36,28,
318,296,358,281,60,47,38,18,327,331,53,17, 295,342,303,287,120,22,49,33,303,294,21,41,
353,313,327,276,110,39,10,45,348,343,44,10, 324,300,349,268,95,28,34,14,311,319,30,53,
306,347,310,283,67,53,21,40,295,306,8,35, 292,320,338,275,115,16,46,29,338,355,39,24,
345,304,297,286,70,37,24,52,321,313,25,47
];

// ---------- styling ----------
const FONT = 'DejaVu Sans';
const VFONT = 'Liberation Sans';
const AX = '#262626';
const C_MOD = '#808080', C_MEAS = '#0e80c4', C_WL = '#86bf3c';
const AMB_FILL = 'rgba(191,191,191,0.5)', ENE_FILL = 'rgba(235,219,153,0.5)';
// legend line samples: a bar inside an invisible frame of the item box size
const ICON_THICK = 'path://M0,0H57V0.01H0Z M0,4.8H57V7.2H0Z M0,11.99H57V12H0Z';
const ICON_THIN = 'path://M0,0H62V0.01H0Z M0,10.5H62V11.5H0Z M0,21.99H62V22H0Z';

const chart = echarts.init(document.getElementById('main'));

const grids = [
  { left: 97, top: 35, width: 869, height: 287, show: true, borderWidth: 0, backgroundColor: '#dfdfdf' },
  { left: 97, top: 403, width: 869, height: 287, show: true, borderWidth: 0, backgroundColor: '#f5edcc' },
  { left: 97, top: 770, width: 869, height: 331 },
  { left: 97, top: 1252, width: 869, height: 285 }
];

function fmt(ticks, labels) {
  return function (v) { const i = ticks.indexOf(v); return i < 0 ? '' : labels[i]; };
}
const lineAx = { onZero: false, lineStyle: { color: AX, width: 1 } };
const tickSt = { color: AX, width: 1 };

function xPair(g, max, ticks, labels, extra) {
  const base = {
    type: 'value', gridIndex: g, min: 0, max: max, splitLine: { show: false },
    axisLine: lineAx, axisTick: { inside: true, length: 6, customValues: ticks, lineStyle: tickSt }
  };
  return [
    Object.assign({}, base, { position: 'bottom', axisLabel: { customValues: ticks, formatter: fmt(ticks, labels), fontFamily: FONT, fontSize: 18, color: AX, margin: 18 } }, extra || {}),
    Object.assign({}, base, { position: 'top', axisLabel: { show: false } })
  ];
}
function ySpeed(g) {
  return {
    type: 'value', gridIndex: g, min: 0, max: 2, interval: 0.25, position: 'left',
    splitLine: { show: false }, axisLine: Object.assign({ show: true }, lineAx),
    axisTick: { show: true, inside: true, length: 6, lineStyle: tickSt },
    axisLabel: { fontFamily: FONT, fontSize: 17, color: AX, margin: 8 },
    name: 'Speed (m/s)', nameLocation: 'middle', nameGap: 66,
    nameTextStyle: { fontFamily: VFONT, fontSize: 18.5, color: AX }
  };
}
function yLevel(g) {
  const wlTicks = [-2, -1, 0, 1, 2];
  return {
    type: 'value', gridIndex: g, min: -5, max: 3, interval: 1, position: 'right',
    splitLine: { show: false }, axisLine: Object.assign({ show: true }, lineAx),
    axisTick: { show: true, inside: true, length: 6, customValues: wlTicks, lineStyle: tickSt },
    axisLabel: { customValues: wlTicks, fontFamily: FONT, fontSize: 18, color: AX, margin: 10 }
  };
}

const xAxes = [].concat(
  xPair(0, 348.7, p1Ticks, p1Labels),
  xPair(1, 348.3, p2Ticks, p2Labels),
  xPair(2, 128.2, p3Ticks, p3Labels),
  xPair(3, 128.2, p3Ticks, p4Labels, {
    name: 'Date', nameLocation: 'middle', nameGap: 52,
    nameTextStyle: { fontFamily: FONT, fontSize: 19, color: AX }
  })
);
const yAxes = [
  ySpeed(0), yLevel(0), ySpeed(1), yLevel(1), ySpeed(2), yLevel(2),
  {
    type: 'value', gridIndex: 3, min: 0, max: 360, interval: 90, position: 'left',
    splitLine: { show: false }, axisLine: Object.assign({ show: true }, lineAx),
    axisTick: { show: true, inside: true, length: 6, lineStyle: tickSt },
    axisLabel: { fontFamily: FONT, fontSize: 17, color: AX, margin: 8 },
    name: 'Direction (°N)', nameLocation: 'middle', nameGap: 58,
    nameTextStyle: { fontFamily: FONT, fontSize: 18, color: AX }
  },
  {
    type: 'value', gridIndex: 3, min: 0, max: 360, interval: 90, position: 'right',
    splitLine: { show: false }, axisLine: Object.assign({ show: true }, lineAx),
    axisTick: { show: true, inside: true, length: 6, lineStyle: tickSt },
    axisLabel: { show: false }
  }
];

function line(name, data, x, y, color, width, z, smooth) {
  return {
    name: name, type: 'line', xAxisIndex: x, yAxisIndex: y, data: data,
    symbol: 'none', smooth: smooth || false, z: z, silent: true,
    lineStyle: { color: color, width: width }, itemStyle: { color: color }
  };
}
const every = (arr, step) => arr.map((v, i) => [i / step, v]);

function patch(name, x, y, span, fill, border, extraMark) {
  const s = {
    name: name, type: 'line', xAxisIndex: x, yAxisIndex: y, data: [], z: 1, silent: true,
    itemStyle: { color: fill },
    markArea: {
      silent: true,
      itemStyle: { color: fill, borderColor: border, borderWidth: border ? 1 : 0 },
      data: [[{ xAxis: span[0] }, { xAxis: span[1] }]]
    }
  };
  if (extraMark) s.markLine = extraMark;
  return s;
}

const series = [
  // panel 1
  line('Measured', p1Meas, 0, 0, C_MEAS, 2, 2),
  line('Modelled', p1Mod, 0, 0, C_MOD, 2, 3, 0.3),
  line('Water Level', p1Wl, 0, 1, C_WL, 2, 3, 0.4),
  // panel 2
  line('Measured', p2Meas, 2, 2, C_MEAS, 2, 2),
  line('Modelled', p2Mod, 2, 2, C_MOD, 2, 3, 0.3),
  line('Water Level', p2Wl, 2, 3, C_WL, 2, 3, 0.4),
  // panel 3
  patch('Ambient Dry', 4, 4, ambientSpan, AMB_FILL, '#111', {
    silent: true, symbol: 'none', label: { show: false },
    lineStyle: { color: '#8f8f8f', type: [7, 5], width: 1 },
    data: windowMarks.map(d => ({ xAxis: d }))
  }),
  patch('Energetic Dry', 4, 4, energeticSpan, ENE_FILL, '#111'),
  line('Measured', every(p3Meas, 4), 4, 4, C_MEAS, 1.1, 2),
  line('Modelled', every(p3Mod, 4), 4, 4, C_MOD, 1.8, 3),
  line('Water Level', every(p3Wl, 4), 4, 5, C_WL, 1, 3),
  // panel 4
  patch('Ambient Dry', 6, 6, [0, energeticSpan[0]], AMB_FILL, '#555'),
  patch('Energetic Dry', 6, 6, energeticSpan, 'rgba(240,228,180,0.7)', null, {
    silent: true, symbol: 'none', label: { show: false },
    lineStyle: { color: '#111', type: 'solid', width: 1.2 },
    data: [{ xAxis: ambientSpan[1] }]
  }),
  {
    name: 'Modelled', type: 'scatter', xAxisIndex: 6, yAxisIndex: 6, data: every(p4Mod, 12),
    symbolSize: 7, z: 2, silent: true, itemStyle: { color: C_MOD }
  },
  {
    name: 'Measured', type: 'scatter', xAxisIndex: 6, yAxisIndex: 6, data: every(p4Meas, 12),
    symbolSize: 6, z: 3, silent: true, itemStyle: { color: C_MEAS }
  }
];

const legendText = { fontFamily: FONT, fontSize: 17, color: AX };
const boxLegend = (top) => ({
  data: [
    { name: 'Modelled', icon: ICON_THICK, itemStyle: { color: C_MOD } },
    { name: 'Measured', icon: ICON_THICK, itemStyle: { color: C_MEAS } },
    { name: 'Water Level', icon: ICON_THICK, itemStyle: { color: C_WL } }
  ],
  left: 425, top: top, orient: 'horizontal', z: 20,
  itemWidth: 57, itemHeight: 12, itemGap: 24, padding: [9, 10, 9, 8],
  borderColor: '#1a1a1a', borderWidth: 1, backgroundColor: '#ffffff', selectedMode: false,
  textStyle: legendText
});

const option = {
  animation: false,
  backgroundColor: '#ffffff',
  grid: grids,
  xAxis: xAxes,
  yAxis: yAxes,
  title: [
    { text: 'WQ1 Ambient Dry', left: 531, top: 7, textAlign: 'center', textStyle: { fontFamily: FONT, fontSize: 19, fontWeight: 'bold', color: '#000' } },
    { text: 'WQ1 Energetic Dry', left: 531, top: 375, textAlign: 'center', textStyle: { fontFamily: FONT, fontSize: 19, fontWeight: 'bold', color: '#000' } },
    { text: 'WQ1', left: 531, top: 744, textAlign: 'center', textStyle: { fontFamily: FONT, fontSize: 19, fontWeight: 'bold', color: '#000' } },
    { text: 'WQ1', left: 531, top: 1225, textAlign: 'center', textStyle: { fontFamily: FONT, fontSize: 19, fontWeight: 'bold', color: '#000' } }
  ],
  legend: [
    boxLegend(60),
    boxLegend(428),
    {
      data: [
        { name: 'Modelled', icon: ICON_THIN, itemStyle: { color: C_MOD } },
        { name: 'Measured', icon: ICON_THIN, itemStyle: { color: C_MEAS } },
        { name: 'Water Level', icon: ICON_THIN, itemStyle: { color: C_WL } },
        { name: 'Ambient Dry', icon: 'rect', itemStyle: { color: '#bdbdbd', borderColor: '#000', borderWidth: 1 } },
        { name: 'Energetic Dry', icon: 'rect', itemStyle: { color: '#ecdd9f', borderColor: '#000', borderWidth: 1 } }
      ],
      left: 65, top: 1168, z: 20, itemWidth: 62, itemHeight: 22, itemGap: 16, padding: [7, 8],
      borderColor: '#1a1a1a', borderWidth: 1, backgroundColor: '#ffffff', selectedMode: false,
      textStyle: legendText
    },
    {
      data: [
        { name: 'Modelled', icon: 'circle', itemStyle: { color: C_MOD } },
        { name: 'Measured', icon: 'circle', itemStyle: { color: C_MEAS } }
      ],
      left: 611, top: 1279, z: 20, itemWidth: 5, itemHeight: 5, itemGap: 40, padding: [8, 10, 8, 35],
      borderColor: '#1a1a1a', borderWidth: 1, backgroundColor: '#ffffff', selectedMode: false,
      textStyle: Object.assign({ padding: [0, 0, 0, 30] }, legendText)
    }
  ],
  graphic: [
    { type: 'text', x: 1024, y: 122, rotation: Math.PI / 2, style: { text: 'Water Level (mAHD)', font: '19px "DejaVu Sans"', fill: AX, align: 'center', verticalAlign: 'middle' } },
    { type: 'text', x: 1024, y: 480, rotation: Math.PI / 2, style: { text: 'Water Level (mAHD)', font: '19px "DejaVu Sans"', fill: AX, align: 'center', verticalAlign: 'middle' } },
    { type: 'text', x: 1024, y: 869, rotation: Math.PI / 2, style: { text: 'Water Level (mAHD)', font: '19px "DejaVu Sans"', fill: AX, align: 'center', verticalAlign: 'middle' } }
  ],
  series: series
};

chart.setOption(option);
</script>
</body>
</html>
